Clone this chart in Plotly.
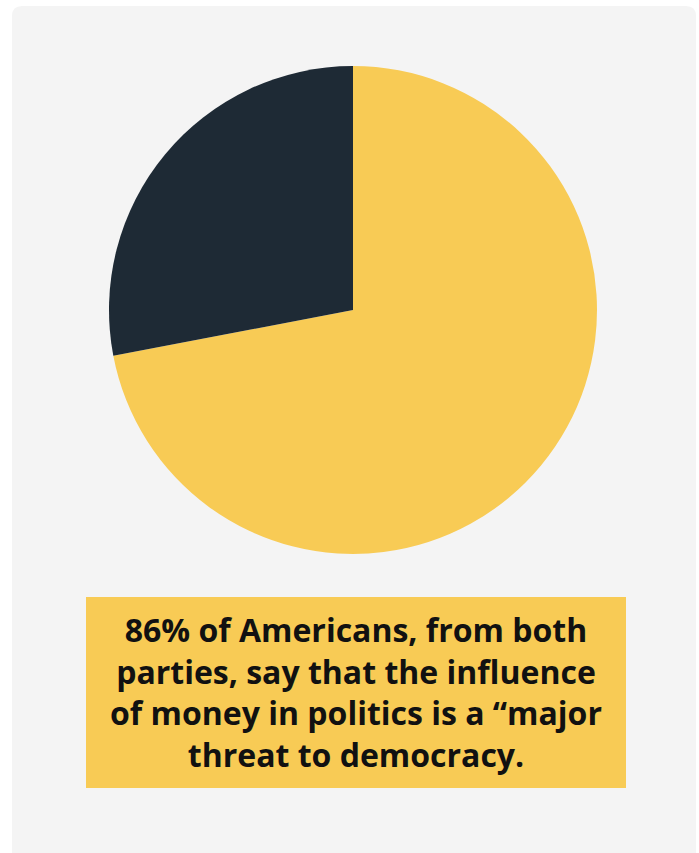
import plotly.graph_objects as go

# Share of respondents
labels = ["Major threat", "Other"]
values = [72, 28]
colors = ["#F8CB55", "#1E2A35"]

caption_lines = [
    "86% of Americans, from both",
    "parties, say that the influence",
    "of money in politics is a “major",
    "threat to democracy.",
]

W, H = 699, 853

def px_x(x):
    return x / W

def px_y(y):
    return 1 - y / H

fig = go.Figure()

fig.add_trace(go.Pie(
    labels=labels,
    values=values,
    marker=dict(colors=colors, line=dict(width=0)),
    sort=False,
    direction="clockwise",
    rotation=0,
    textinfo="none",
    hoverinfo="label+percent",
    showlegend=False,
    domain=dict(x=[px_x(109), px_x(597)], y=[px_y(554), px_y(66)]),
))

# Rounded card background
r = 10
x0, y0, x1, y1 = 12, 6, 696, 870
card_path = (
    f"M {px_x(x0 + r)},{px_y(y0)} L {px_x(x1 - r)},{px_y(y0)} "
    f"Q {px_x(x1)},{px_y(y0)} {px_x(x1)},{px_y(y0 + r)} "
    f"L {px_x(x1)},{px_y(y1)} L {px_x(x0)},{px_y(y1)} "
    f"L {px_x(x0)},{px_y(y0 + r)} Q {px_x(x0)},{px_y(y0)} {px_x(x0 + r)},{px_y(y0)} Z"
)

fig.update_layout(
    width=W,
    height=H,
    margin=dict(l=0, r=0, t=0, b=0),
    paper_bgcolor="#FFFFFF",
    plot_bgcolor="#FFFFFF",
    shapes=[
        dict(type="path", path=card_path, xref="paper", yref="paper",
             fillcolor="#F4F4F4", line=dict(width=0), layer="below"),
        dict(type="rect", xref="paper", yref="paper",
             x0=px_x(86), x1=px_x(626), y0=px_y(788), y1=px_y(597),
             fillcolor="#F8CB55", line=dict(width=0), layer="below"),
    ],
    annotations=[
        dict(
            text="<br>".join(caption_lines),
            xref="paper", yref="paper",
            x=px_x(356), y=px_y(692),
            xanchor="center", yanchor="middle",
            showarrow=False,
            align="center",
            font=dict(family="Open Sans", size=32, color="#111111", weight=700),
        )
    ],
)

fig.write_html("out.html")
